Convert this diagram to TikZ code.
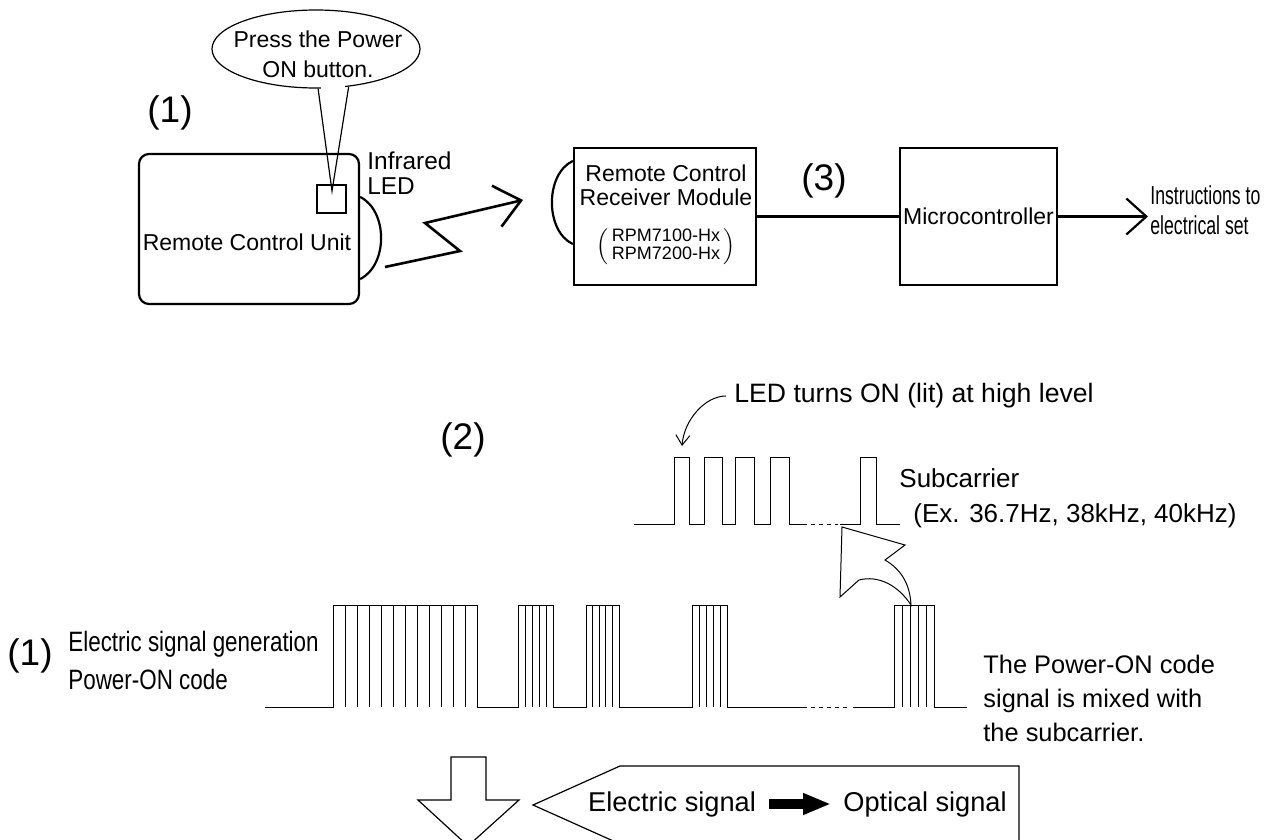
\documentclass[tikz,border=0pt]{standalone}
\usepackage{fontspec}
\setmainfont{Liberation Sans}
\newfontfamily\condfont[FakeStretch=0.68]{Liberation Sans}
\newfontfamily\narrowfont[FakeStretch=0.8]{Liberation Sans}
\usepackage{tikz}
\usetikzlibrary{positioning,calc,shapes.geometric,arrows.meta}

\begin{document}
\begin{tikzpicture}[
  x=0.5pt, y=-0.5pt,
  unit/.style={rectangle, draw, line width=1.1pt, inner sep=0pt},
  lens/.style={line width=1.1pt},
  wave/.style={line width=0.5pt},
  txt/.style={inner sep=0pt, font=\fontsize{11.5}{15}\selectfont},
  big/.style={inner sep=0pt, font=\fontsize{18.5}{20}\selectfont},
  side/.style={inner sep=0pt, anchor=west, align=left}
]
\path[use as bounding box] (0,0) rectangle (1285,840);

% remote control unit with the callout
\node[unit, rounded corners=5pt, minimum width=110pt, minimum height=75pt] (remote) at (249,229) {};
\node[txt] (remotelbl) at (247,242) {Remote Control Unit};
\node[unit, line width=1pt, minimum width=14.5pt, minimum height=14pt] (led) at (331.5,199) {};
\node[ellipse, draw, line width=0.6pt, minimum width=104pt, minimum height=39pt] (callout) at (316,49) {};
\fill[white] (321,82) rectangle (345,93);
\node[txt, align=center] (press) at (318,54) {Press the Power\\ON button.};
\coordinate (pointer) at (332,191);
\draw[line width=0.6pt] (callout.-87) -- (pointer) -- (callout.-49);
\node[big] (oneup) at (170,113) {(1)};
\draw[lens] ($(remote.north east)+(0,44)$) .. controls +(28,14) and +(28,-14) .. ($(remote.south east)+(0,-26)$);
\node[side, font=\fontsize{12.2}{12.5}\selectfont] (irlbl) at (367,173) {Infrared\\LED};

% infrared beam
\coordinate (beamstart) at (385,267);
\coordinate (beamend) at (523,200);
\draw[line width=1.3pt, -{Straight Barb[length=12.5pt,width=21pt]}] (beamstart) -- (460,251) -- (425,223) -- (beamend);

% receiver and microcontroller
\node[unit, minimum width=91pt, minimum height=68.5pt] (recv) at (665,216.5) {};
\node[txt, align=center, font=\fontsize{11.5}{12}\selectfont] (recvlbl) at (666,185) {Remote Control\\Receiver Module};
\node[inner sep=0pt, font=\fontsize{9}{9}\selectfont] (rpm) at (666,247) {$\left(\,\begin{tabular}{@{}c@{}}RPM7100-Hx\\RPM7200-Hx\end{tabular}\,\right)$};
\draw[lens] ($(recv.north west)+(0,14)$) .. controls +(-28,13) and +(-28,-13) .. ($(recv.south west)+(0,-42)$);
\node[unit, minimum width=78.5pt, minimum height=68.5pt, font=\fontsize{11.5}{12}\selectfont] (micro) at (978.5,216.5) {Microcontroller};
\draw[line width=1.1pt] (recv) -- (micro);
\node[big] (three) at (824,181) {(3)};
\node[side, inner sep=1pt, font=\condfont\fontsize{13}{15}\selectfont] (instr) at (1148,210) {Instructions to\\electrical set};
\draw[line width=1.1pt, -{Straight Barb[length=10pt,width=18pt]}] (micro) -- (micro -| instr.west);

% subcarrier
\node[big] (two) at (463,440) {(2)};
\node[side, inner sep=4pt, font=\fontsize{13.3}{14}\selectfont] (lit) at (726,396) {LED turns ON (lit) at high level};
\coordinate (litpt) at (682,446);
\draw[wave, -{Straight Barb[length=5pt,width=7pt]}] (lit.west) .. controls (705,396) and (684,420) .. (litpt);
\draw[wave] (634,524) -- (674,524) |- (689,457) |- (704,524) |- (722,457) |- (735,524) |- (754,457) |- (770,524) |- (789,457) |- (803,524);
\draw[wave, dash pattern=on 2pt off 2pt] (803,524) -- (838,524);
\draw[wave] (840,524) -- (860,524) |- (876,457) |- (900,524);
\node[side, font=\fontsize{13}{14}\selectfont] (subc) at (899,478) {Subcarrier};
\node[side, font=\fontsize{13}{14}\selectfont] (subex) at (913,516) {(Ex. 36.7Hz, 38kHz, 40kHz)};

% power-on code
\node[big] (onelow) at (30,656) {(1)};
\node[side, font=\narrowfont\fontsize{14}{19}\selectfont] (gen) at (68,660) {Electric signal generation\\Power-ON code};
\draw[wave] (265,707) -- (333,707) |- (477,605) |- (518,707) |- (553,605) |- (586,707) |- (619,605) |- (692,707) |- (727,605) |- (803,707);
\draw[wave, dash pattern=on 2pt off 2pt] (803,707) -- (850,707);
\draw[wave] (853,707) -- (894,707) |- (934,605) |- (967,707);
\foreach \a/\b/\m in {333/477/11, 518/553/4, 586/619/4, 692/727/4, 894/934/4}
  \foreach \k in {1,...,\m}
    \draw[wave] ({\a+\k*(\b-\a)/(\m+1)},605) -- ++(0,102);
\node[side, font=\fontsize{12.7}{17}\selectfont] (mixed) at (983,698) {The Power-ON code\\signal is mixed with\\the subcarrier.};

% mixing arrow
\draw[wave, fill=white] (911,605) .. controls (910,585) and (902,570) .. (885,560) -- (905,545) -- (842,527) -- (840,597) -- (859,580) .. controls (878,575) and (898,585) .. (911,605) -- cycle;

% conversion
\begin{scope}
\clip (0,0) rectangle (1285,840);
\draw[wave, line width=0.6pt] (451,757) -- (486,757) -- (486,800) -- (519,800) -- (468,846) -- (418,800) -- (451,800) -- cycle;
\draw[wave, line width=0.6pt] (533,805) -- (620,766) -- (1019,766) -- (1019,844) -- (620,844) -- cycle;
\end{scope}
\node[inner sep=3pt, font=\fontsize{13.6}{14}\selectfont] (elec) at (672,804) {Electric signal};
\node[side, inner sep=3pt, font=\fontsize{13.6}{14}\selectfont] (optic) at (837,804) {Optical signal};
\draw[line width=5pt, -{Triangle[length=14pt,width=10pt]}, shorten <=3.5pt, shorten >=3pt] (elec.east) -- (optic.west);
\end{tikzpicture}
\end{document}
